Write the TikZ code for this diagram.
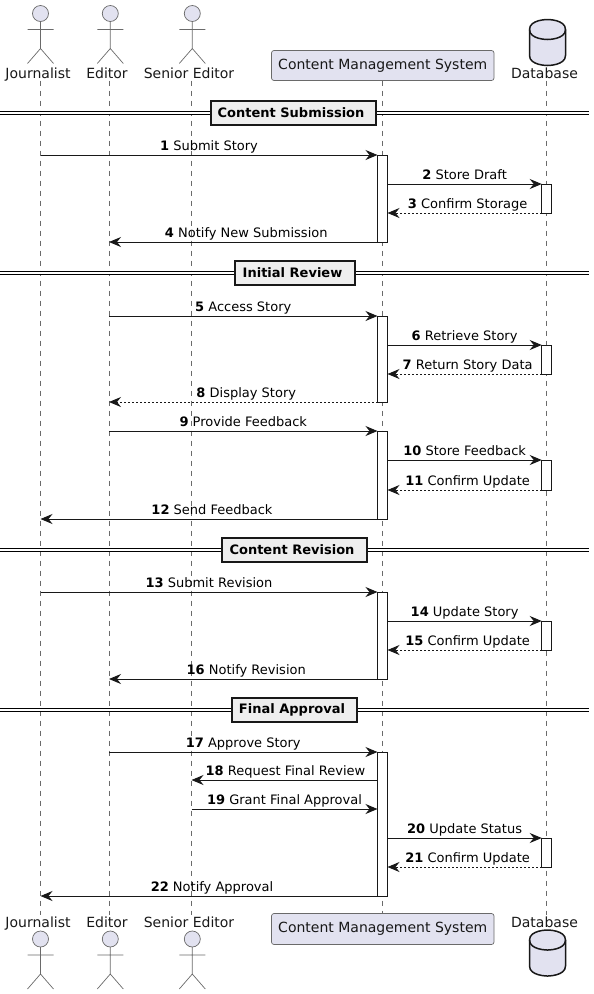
\documentclass[tikz,border=0pt]{standalone}
\usepackage{fontspec}
\setmainfont{DejaVu Sans}
\definecolor{umlink}{HTML}{181818}
\definecolor{umlthin}{HTML}{6A6A6A}
\definecolor{umlfill}{HTML}{E2E2F0}
\definecolor{umlgroup}{HTML}{EEEEEE}
\usetikzlibrary{arrows.meta}

\begin{document}
\begin{tikzpicture}[
    x=1pt, y=-1pt,
    >={Stealth[length=12pt, width=10pt, inset=4pt]},
    lbl/.style={font=\fontsize{14}{16}\selectfont, text=umlink, anchor=base, inner sep=0pt},
    party/.style={rectangle, rounded corners=2.5pt, draw=umlthin, line width=0.7pt, fill=umlfill,
      minimum width=222.5pt, text=umlink, font=\fontsize{14}{16}\selectfont, outer sep=0pt},
    life/.style={draw=umlthin, line width=0.6pt, dash pattern=on 5pt off 5pt},
    actbar/.style={rectangle, draw=umlink, line width=1pt, fill=white, minimum width=10pt,
      inner sep=0pt, outer sep=0pt},
    sect/.style={rectangle, draw=umlink, line width=2pt, fill=umlgroup, minimum height=24pt,
      inner sep=0pt, outer sep=0pt, font=\fontsize{13}{15}\selectfont\bfseries,
      execute at end node=\hspace*{5pt}},
    rule/.style={draw=black, line width=1pt, double=white, double distance=2pt},
    msg/.style={draw=umlink, line width=1pt, ->},
    reply/.style={msg, dash pattern=on 2pt off 2pt},
    txt/.style={midway, above, inner sep=0pt, yshift=4.5pt, text depth=0pt, text=black,
      font=\fontsize{13}{15}\selectfont},
    txtback/.style={txt, xshift=3pt},
    actorfig/.pic={
      \draw[umlthin, line width=0.7pt, fill=umlfill] (0,0) circle (8);
      \draw[umlthin, line width=0.7pt] (0,8) -- (0,35) (-13,16) -- (13,16)
        (-13,50) -- (0,35) -- (13,50);
    },
    dbfig/.pic={
      \draw[umlink, line width=1.5pt, fill=umlfill] (0,10) .. controls (0,0) and (18,0) .. (18,0)
        .. controls (18,0) and (36,0) .. (36,10) -- (36,36)
        .. controls (36,46) and (18,46) .. (18,46)
        .. controls (18,46) and (0,46) .. (0,36) -- cycle;
      \draw[umlink, line width=1.5pt] (0,10) .. controls (0,20) and (18,20) .. (18,20)
        .. controls (18,20) and (36,20) .. (36,10);
    }
  ]

  \useasboundingbox (0,0) rectangle (594,994);

  %% ===== lifelines =====
  \coordinate (jtop) at (40.5,80.5);
  \coordinate (jbot) at (40.5,915);
  \coordinate (etop) at (109,80.5);
  \coordinate (ebot) at (109,915);
  \coordinate (stop) at (191.5,80.5);
  \coordinate (sbot) at (191.5,915);
  \coordinate (dtop) at (546.5,80.5);
  \coordinate (dbot) at (546.5,915);

  \draw[life] (jtop) -- (jbot);
  \draw[life] (etop) -- (ebot);
  \draw[life] (stop) -- (sbot);
  \draw[life] (dtop) -- (dbot);

  %% ===== participants, top =====
  \pic at (40.5,13.5) {actorfig};
  \pic at (110.3,13.5) {actorfig};
  \pic at (192.3,13.5) {actorfig};
  \pic at (529.5,19.5) {dbfig};
  \node[lbl] (jname) at (38,78) {Journalist};
  \node[lbl] (ename) at (107,78) {Editor};
  \node[lbl] (sname) at (189,78) {Senior Editor};
  \node[lbl] (dname) at (544.5,78) {Database};
  \node[party, minimum height=30pt] (cms) at (382.75,65.5) {Content Management System};

  %% ===== participants, bottom =====
  \pic at (40.5,939) {actorfig};
  \pic at (110.3,939) {actorfig};
  \pic at (192.3,939) {actorfig};
  \pic at (529.5,930) {dbfig};
  \node[lbl] (jname2) at (38,927.5) {Journalist};
  \node[lbl] (ename2) at (107,927.5) {Editor};
  \node[lbl] (sname2) at (189,927.5) {Senior Editor};
  \node[lbl] (dname2) at (544.5,927.5) {Database};
  \node[party, minimum height=31pt] (cms2) at (382.75,929) {Content Management System};

  \draw[life] (cms) -- (cms2);

  %% ===== section rules =====
  \coordinate (r1a) at (0,112.8);
  \coordinate (r1b) at (589,112.8);
  \coordinate (r2a) at (0,272.8);
  \coordinate (r2b) at (589,272.8);
  \coordinate (r3a) at (0,549.8);
  \coordinate (r3b) at (589,549.8);
  \coordinate (r4a) at (0,709.8);
  \coordinate (r4b) at (589,709.8);
  \draw[rule] (r1a) -- (r1b);
  \draw[rule] (r2a) -- (r2b);
  \draw[rule] (r3a) -- (r3b);
  \draw[rule] (r4a) -- (r4b);
  \node[sect, minimum width=165pt] (sec1) at (293.5,113) {Content Submission};
  \node[sect, minimum width=120pt] (sec2) at (295,273) {Initial Review};
  \node[sect, minimum width=145pt] (sec3) at (294.5,550) {Content Revision};
  \node[sect, minimum width=125pt] (sec4) at (294.5,710) {Final Approval};

  %% ===== activation bars =====
  \node[actbar, minimum height=87pt] (a1) at (382.5,198.5) {};
  \node[actbar, minimum height=29pt] (a2) at (546.75,198.5) {};
  \node[actbar, minimum height=86pt] (a5) at (382.5,359) {};
  \node[actbar, minimum height=29pt] (a6) at (546.75,359.5) {};
  \node[actbar, minimum height=88pt] (a9) at (382.5,475) {};
  \node[actbar, minimum height=30pt] (a10) at (546.75,475) {};
  \node[actbar, minimum height=87pt] (a13) at (382.5,635.5) {};
  \node[actbar, minimum height=29pt] (a14) at (546.75,635.5) {};
  \node[actbar, minimum height=144pt] (a17) at (382.5,824) {};
  \node[actbar, minimum height=29pt] (a20) at (546.75,852.5) {};

  %% ===== Content Submission =====
  \draw[msg] (jtop |- a1.north) -- node[txt] {\textbf{1} Submit Story} (a1.north west);
  \draw[msg] (a1.east |- a2.north) -- node[txt] {\textbf{2} Store Draft} (a2.north west);
  \draw[reply] (a2.south west) -- node[txtback] {\textbf{3} Confirm Storage} (a1.east |- a2.south);
  \draw[msg] (a1.south west) -- node[txtback] {\textbf{4} Notify New Submission} (etop |- a1.south);

  %% ===== Initial Review =====
  \draw[msg] (etop |- a5.north) -- node[txt] {\textbf{5} Access Story} (a5.north west);
  \draw[msg] (a5.east |- a6.north) -- node[txt] {\textbf{6} Retrieve Story} (a6.north west);
  \draw[reply] (a6.south west) -- node[txtback] {\textbf{7} Return Story Data} (a5.east |- a6.south);
  \draw[reply] (a5.south west) -- node[txtback] {\textbf{8} Display Story} (etop |- a5.south);
  \draw[msg] (etop |- a9.north) -- node[txt] {\textbf{9} Provide Feedback} (a9.north west);
  \draw[msg] (a9.east |- a10.north) -- node[txt] {\textbf{10} Store Feedback} (a10.north west);
  \draw[reply] (a10.south west) -- node[txtback] {\textbf{11} Confirm Update} (a9.east |- a10.south);
  \draw[msg] (a9.south west) -- node[txtback] {\textbf{12} Send Feedback} (jtop |- a9.south);

  %% ===== Content Revision =====
  \draw[msg] (jtop |- a13.north) -- node[txt] {\textbf{13} Submit Revision} (a13.north west);
  \draw[msg] (a13.east |- a14.north) -- node[txt] {\textbf{14} Update Story} (a14.north west);
  \draw[reply] (a14.south west) -- node[txtback] {\textbf{15} Confirm Update} (a13.east |- a14.south);
  \draw[msg] (a13.south west) -- node[txtback] {\textbf{16} Notify Revision} (etop |- a13.south);

  %% ===== Final Approval =====
  \coordinate (m18) at (377.5,780);
  \coordinate (m19) at (377.5,809);
  \draw[msg] (etop |- a17.north) -- node[txt] {\textbf{17} Approve Story} (a17.north west);
  \draw[msg] (m18) -- node[txt, xshift=1pt] {\textbf{18} Request Final Review} (stop |- m18);
  \draw[msg] (stop |- m19) -- node[txt] {\textbf{19} Grant Final Approval} (m19);
  \draw[msg] (a17.east |- a20.north) -- node[txt] {\textbf{20} Update Status} (a20.north west);
  \draw[reply] (a20.south west) -- node[txtback] {\textbf{21} Confirm Update} (a17.east |- a20.south);
  \draw[msg] (a17.south west) -- node[txtback] {\textbf{22} Notify Approval} (jtop |- a17.south);
\end{tikzpicture}
\end{document}
